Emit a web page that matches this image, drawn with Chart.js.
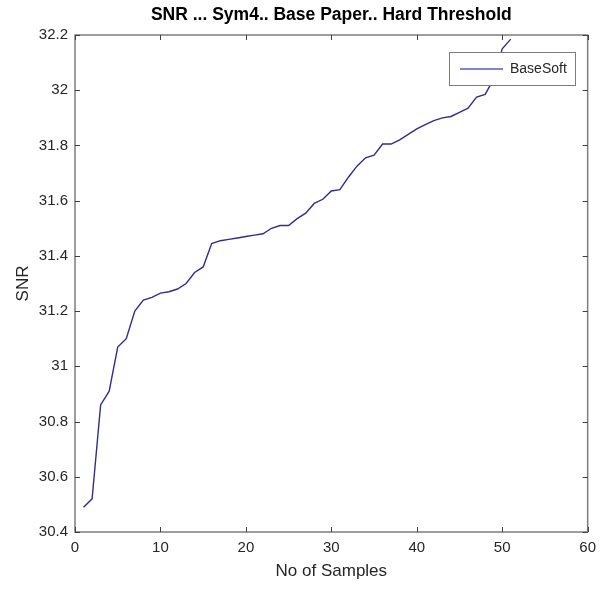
<!DOCTYPE html>
<html>
<head>
<meta charset="utf-8">
<script src="https://cdn.jsdelivr.net/npm/chart.js@4/dist/chart.umd.min.js"></script>
<style>
  html, body { margin: 0; padding: 0; background: #fff; }
  #wrap { width: 603px; height: 591px; }
</style>
</head>
<body>
<div id="wrap"><canvas id="chart" width="603" height="591"></canvas></div>
<script>
const samples = [1, 2, 3, 4, 5, 6, 7, 8, 9, 10, 11, 12, 13, 14, 15, 16, 17, 18, 19, 20,
    21, 22, 23, 24, 25, 26, 27, 28, 29, 30, 31, 32, 33, 34, 35, 36, 37, 38, 39, 40,
    41, 42, 43, 44, 45, 46, 47, 48, 49, 50, 51];
const baseSoft = [30.49, 30.52, 30.86, 30.91, 31.07, 31.10, 31.20, 31.24, 31.25, 31.265,
    31.27, 31.28, 31.30, 31.34, 31.36, 31.445, 31.455, 31.46, 31.465, 31.47,
    31.475, 31.48, 31.50, 31.51, 31.51, 31.535, 31.555, 31.59, 31.605, 31.635,
    31.64, 31.685, 31.725, 31.755, 31.765, 31.805, 31.805, 31.82, 31.84, 31.86,
    31.875, 31.89, 31.90, 31.905, 31.92, 31.935, 31.975, 31.985, 32.04, 32.15, 32.185];
const xTicks = [0, 10, 20, 30, 40, 50, 60];
const yTicks = [30.4, 30.6, 30.8, 31, 31.2, 31.4, 31.6, 31.8, 32, 32.2];

const boxColor = '#7c7c7c';
const textColor = '#262626';
const sans = '"Liberation Sans", Arial, sans-serif';

// matlab style box with inward ticks + legend inside the axes
const matlabAxes = {
    id: 'matlabAxes',
    afterDraw(chart) {
        const { ctx, chartArea: a, scales } = chart;
        ctx.save();
        ctx.strokeStyle = boxColor;
        ctx.lineWidth = 1.5;
        ctx.strokeRect(a.left, a.top, a.right - a.left, a.bottom - a.top);
        ctx.lineWidth = 1;
        ctx.strokeStyle = '#404040';
        ctx.beginPath();
        xTicks.forEach(v => {
            const px = Math.round(scales.x.getPixelForValue(v)) + 0.5;
            ctx.moveTo(px, a.bottom); ctx.lineTo(px, a.bottom - 5);
            ctx.moveTo(px, a.top); ctx.lineTo(px, a.top + 5);
        });
        yTicks.forEach(v => {
            const py = Math.round(scales.y.getPixelForValue(v)) + 0.5;
            ctx.moveTo(a.left, py); ctx.lineTo(a.left + 5, py);
            ctx.moveTo(a.right, py); ctx.lineTo(a.right - 5, py);
        });
        ctx.stroke();

        // legend
        const ds = chart.data.datasets[0];
        const lx = 449, ly = 52, lw = 126, lh = 33;
        ctx.fillStyle = '#fff';
        ctx.fillRect(lx, ly, lw, lh);
        ctx.strokeStyle = boxColor;
        ctx.lineWidth = 1;
        ctx.strokeRect(lx + 0.5, ly + 0.5, lw, lh);
        ctx.strokeStyle = '#5a5ac0';
        ctx.lineWidth = 1.5;
        ctx.beginPath();
        ctx.moveTo(lx + 11, ly + 17); ctx.lineTo(lx + 54, ly + 17);
        ctx.stroke();
        ctx.fillStyle = textColor;
        ctx.font = '14px ' + sans;
        ctx.textBaseline = 'middle';
        ctx.fillText(ds.label, lx + 61, ly + 17);
        ctx.restore();
    }
};

new Chart(document.getElementById('chart'), {
    type: 'line',
    data: {
        labels: samples,
        datasets: [{
            label: 'BaseSoft',
            data: samples.map((x, i) => ({ x: x, y: baseSoft[i] })),
            borderColor: '#2e2e8e',
            borderWidth: 1.4,
            pointRadius: 0,
            tension: 0,
            fill: false
        }]
    },
    options: {
        responsive: false,
        animation: false,
        layout: { padding: { top: 0, right: 13, bottom: 0, left: 0 } },
        scales: {
            x: {
                type: 'linear',
                min: 0,
                max: 60,
                afterFit: s => { s.height = 59; },
                afterBuildTicks: s => { s.ticks = xTicks.map(v => ({ value: v })); },
                grid: { display: false, drawTicks: false },
                border: { display: false },
                ticks: {
                    padding: 7,
                    color: textColor,
                    font: { size: 15, family: sans }
                },
                title: {
                    display: true,
                    text: 'No of Samples',
                    color: textColor,
                    padding: { top: 1, bottom: 9 },
                    font: { size: 17, family: sans }
                }
            },
            y: {
                min: 30.4,
                max: 32.2,
                afterFit: s => { s.width = 75; },
                afterBuildTicks: s => { s.ticks = yTicks.map(v => ({ value: v })); },
                grid: { display: false, drawTicks: false },
                border: { display: false },
                ticks: {
                    padding: 7,
                    color: textColor,
                    font: { size: 15, family: sans },
                    callback: v => String(parseFloat(Number(v).toFixed(1)))
                },
                title: {
                    display: true,
                    text: 'SNR',
                    color: textColor,
                    padding: { top: 13, bottom: 0 },
                    font: { size: 17, family: sans }
                }
            }
        },
        plugins: {
            legend: { display: false },
            tooltip: { enabled: false },
            title: {
                display: true,
                fullSize: false,
                text: 'SNR ... Sym4.. Base Paper.. Hard Threshold',
                color: '#000',
                padding: { top: 5, bottom: 9 },
                font: { size: 17.5, weight: 'bold', family: sans }
            }
        }
    },
    plugins: [matlabAxes]
});
</script>
</body>
</html>
